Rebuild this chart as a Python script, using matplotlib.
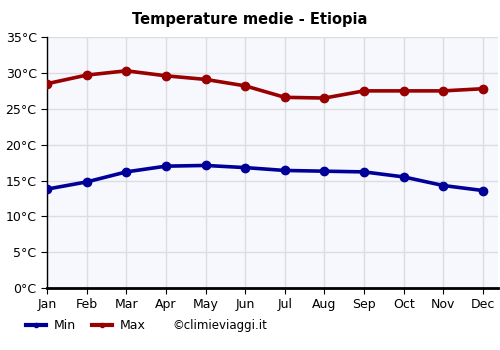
import matplotlib.pyplot as plt
from matplotlib.lines import Line2D

months = ["Jan", "Feb", "Mar", "Apr", "May", "Jun",
          "Jul", "Aug", "Sep", "Oct", "Nov", "Dec"]
temp_min = [13.8, 14.8, 16.2, 17.0, 17.1, 16.8, 16.4, 16.3, 16.2, 15.5, 14.3, 13.6]
temp_max = [28.5, 29.7, 30.3, 29.6, 29.1, 28.2, 26.6, 26.5, 27.5, 27.5, 27.5, 27.8]
y_ticks = [0, 5, 10, 15, 20, 25, 30, 35]

fig = plt.figure(figsize=(5, 3.5), dpi=100)
ax = fig.add_axes([0.094, 0.177, 0.902, 0.717])
ax.set_facecolor("#f7f8fe")

x = list(range(len(months)))
ax.plot(x, temp_min, color="#000099", lw=2.6, marker="o", ms=6, zorder=3)
ax.plot(x, temp_max, color="#990000", lw=2.6, marker="o", ms=6, zorder=3)

ax.set_xlim(0, 11.38)
ax.set_ylim(0, 35)
ax.set_xticks(x, months)
ax.set_yticks(y_ticks, [f"{t}°C" for t in y_ticks])
ax.grid(color="#dddddd", lw=1)
ax.set_axisbelow(True)
ax.tick_params(labelsize=9, length=4, color="black")
for s in ["top", "right"]:
    ax.spines[s].set_visible(False)
ax.spines["bottom"].set_linewidth(2)
ax.spines["left"].set_linewidth(1)

fig.suptitle("Temperature medie - Etiopia", x=0.5, y=0.965, fontsize=10.5, fontweight="bold")

handles = [Line2D([0], [0], color="#000099", lw=3, marker="o", ms=3),
           Line2D([0], [0], color="#990000", lw=3, marker="o", ms=3)]
fig.legend(handles, ["Min", "Max"], loc="center left", bbox_to_anchor=(0.03, 0.07),
           ncol=2, frameon=False, fontsize=9, handlelength=1.6, handletextpad=0.6,
           columnspacing=1.3)
fig.text(0.344, 0.07, "©climieviaggi.it", fontsize=8.5, va="center")

fig.savefig("out.png")
